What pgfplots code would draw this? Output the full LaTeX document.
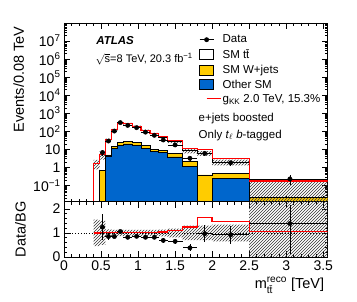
\documentclass[border=0pt]{standalone}
\usepackage{fontspec}
\setmainfont{Liberation Sans}
\usepackage{amsmath}
\usepackage{pgfplots}
\pgfplotsset{compat=1.18}
\usepackage{pgfplotstable}
\usetikzlibrary{patterns}

\definecolor{otherblue}{RGB}{0,102,204}
\definecolor{wyellow}{RGB}{255,204,0}
\definecolor{sigred}{RGB}{255,0,0}

% left bin edges; last row repeats the final value at the right edge
\pgfplotstableread{
x    blue   yel    tot    sig
0.00 1e-3   1e-3   1e-3   0.0135
0.40 1e-3   1e-3   1.7    1.73
0.48 1e-3   0.66   5.4    5.45
0.56 4.0    4.9    34     34.3
0.64 11.6   14.3   121    122
0.72 16     24     286    289
0.80 20     27     260    263
0.92 16     24     185    187
1.04 11.6   16     110    111
1.16 7.5    9.4    73     74
1.28 6.4    8.8    48     50
1.40 3.8    6.0    27     29.7
1.60 1.1    2.15   8.5    10.6
1.80 1e-3   0.38   6.2    10.2
2.00 0.25   0.47   2.0    2.96
2.50 0.008  0.022  0.165  0.177
3.60 0.008  0.022  0.165  0.177
}\stack

% same bins, closed to the floor at the right end (for filling)
\pgfplotstableread{
x    blue   yel
0.00 1e-3   1e-3
0.48 1e-3   0.66
0.56 4.0    4.9
0.64 11.6   14.3
0.72 16     24
0.80 20     27
0.92 16     24
1.04 11.6   16
1.16 7.5    9.4
1.28 6.4    8.8
1.40 3.8    6.0
1.60 1.1    2.15
1.80 1e-3   0.38
2.00 0.25   0.47
2.50 0.008  0.022
3.60 1e-3   1e-3
}\fills

\pgfplotstableread{
x    y     ex    eyp   eym
0.52 6.7   0.04  2.6   2.6
0.60 28.9  0.04  5.4   5.4
0.68 102.9 0.04  10    10
0.76 303   0.04  17    17
0.86 213   0.06  14    14
0.98 159   0.06  12    12
1.10 90    0.06  9     9
1.22 60    0.06  7.7   7.7
1.34 33    0.06  5.7   5.7
1.50 17.6  0.10  3     3
1.70 3.2   0.10  1.1   1.1
1.90 6.0   0.10  1.7   1.7
2.25 1.8   0.25  0.55  0.55
3.05 0.23  0.55  0.17  0.13
}\data

\pgfplotstableread{
x    sig
0.40 1.00
0.48 1.01
0.56 1.01
0.64 1.01
0.72 1.01
0.80 1.01
0.92 1.01
1.04 1.01
1.16 1.01
1.28 1.04
1.40 1.10
1.60 1.25
1.80 1.65
2.00 1.48
2.50 1.07
3.60 1.07
}\ratiosig

\pgfplotstableread{
x    y     ex    eyp   eym
0.52 1.24  0.04  0.53  0.55
0.60 0.85  0.04  0.15  0.15
0.68 0.85  0.04  0.08  0.08
0.76 1.06  0.04  0.06  0.06
0.86 0.82  0.06  0.05  0.05
0.98 0.86  0.06  0.06  0.06
1.10 0.82  0.06  0.07  0.07
1.22 0.82  0.06  0.08  0.08
1.34 0.69  0.06  0.10  0.10
1.50 0.65  0.10  0.10  0.10
1.70 0.38  0.10  0.14  0.14
1.90 0.97  0.10  0.35  0.35
2.25 0.92  0.25  0.38  0.38
3.05 1.39  0.55  0.76  1.26
}\ratiodata

\pgfplotsset{
  every axis/.append style={
    scale only axis, width=263.7pt,
    xmin=0, xmax=3.56,
    tick align=inside, major tick length=6pt, minor tick length=3pt,
    axis line style={line width=0.8pt},
    every tick/.style={black, line width=0.6pt},
    tick label style={font=\fontsize{14}{16}\selectfont},
    label style={font=\fontsize{14.5}{17}\selectfont},
    /pgf/number format/assume math mode=true,
    xtick={0,0.5,1,1.5,2,2.5,3,3.5},
    minor x tick num=4,
  },
  datastyle/.style={only marks, mark=*, mark size=2.2pt, black,
    error bars/x dir=both, error bars/x explicit,
    error bars/y dir=both, error bars/y explicit,
    error bars/error bar style={line width=0.8pt, black},
    error bars/error mark=none},
}

\begin{document}
\begin{tikzpicture}
\useasboundingbox (-64pt,-100.3pt) rectangle (293pt,201.7pt);
\begin{axis}[
  name=main, at={(0,0)}, anchor=south west,
  height=178.7pt,
  ymode=log, ymin=0.0126, ymax=1e8,
  xticklabels=\empty,
  ytick={0.1,1,10,100,1000,1e4,1e5,1e6,1e7},
  yticklabels={10$^{\text{−1}}$,1,10,10$^{\text{2}}$,10$^{\text{3}}$,10$^{\text{4}}$,10$^{\text{5}}$,10$^{\text{6}}$,10$^{\text{7}}$},
  minor ytick={0.02,0.03,0.04,0.05,0.06,0.07,0.08,0.09,0.2,0.3,0.4,0.5,0.6,0.7,0.8,0.9,2,3,4,5,6,7,8,9,20,30,40,50,60,70,80,90,200,300,400,500,600,700,800,900,2e3,3e3,4e3,5e3,6e3,7e3,8e3,9e3,2e4,3e4,4e4,5e4,6e4,7e4,8e4,9e4,2e5,3e5,4e5,5e5,6e5,7e5,8e5,9e5,2e6,3e6,4e6,5e6,6e6,7e6,8e6,9e6,2e7,3e7,4e7,5e7,6e7,7e7,8e7,9e7},
  ylabel={Events/0.08 TeV},
  ylabel style={at={(axis description cs:-0.172,1)}, anchor=east},
  legend style={at={(axis description cs:0.512,0.945)}, anchor=north west,
    draw=none, fill=none, font=\fontsize{11.5}{13}\selectfont,
    row sep=1pt, inner sep=0pt,
    /tikz/every even column/.append style={column sep=3pt}},
  legend cell align=left,
]
% stacked fills
\addplot[const plot, fill=wyellow, draw=none, forget plot] table[x=x,y=yel] {\fills} -- cycle;
\addplot[const plot, fill=otherblue, draw=none, forget plot] table[x=x,y=blue] {\fills} -- cycle;
% uncertainty band (step polygon: upper edge forward, lower edge back)
\addplot[pattern=north east lines, pattern color=black!80, draw=none, forget plot] coordinates {
(0.40,2.6)(0.48,2.6)(0.48,8.1)(0.56,8.1)(0.56,39.1)(0.64,39.1)(0.64,137)(0.72,137)(0.72,323)(0.80,323)(0.80,294)(0.92,294)(0.92,209)(1.04,209)(1.04,124)(1.16,124)(1.16,82.5)(1.28,82.5)(1.28,54.7)(1.40,54.7)(1.40,31.9)(1.60,31.9)(1.60,11.05)(1.80,11.05)(1.80,8.06)(2.00,8.06)(2.00,2.7)(2.50,2.7)(2.50,0.22)(3.60,0.22)
(3.60,0.001)(2.50,0.001)(2.50,1.3)(2.00,1.3)(2.00,4.34)(1.80,4.34)(1.80,5.95)(1.60,5.95)(1.60,22.1)(1.40,22.1)(1.40,41.3)(1.28,41.3)(1.28,63.5)(1.16,63.5)(1.16,96)(1.04,96)(1.04,161)(0.92,161)(0.92,226)(0.80,226)(0.80,249)(0.72,249)(0.72,105)(0.64,105)(0.64,28.9)(0.56,28.9)(0.56,2.7)(0.48,2.7)(0.48,0.77)(0.40,0.77)
} -- cycle;
% outlines
\addplot[const plot, black, line width=0.8pt, forget plot] table[x=x,y=blue] {\stack};
\addplot[const plot, black, line width=0.8pt, forget plot] table[x=x,y=yel] {\stack};
\addplot[const plot, black, line width=0.8pt, forget plot] table[x=x,y=tot] {\stack};
% signal + background
\addplot[const plot, draw=sigred, line width=1.2pt, forget plot] table[x=x,y=sig] {\stack};
% data
\addplot[forget plot, datastyle] table[x=x,y=y,x error=ex,y error plus=eyp,y error minus=eym] {\data};

\addlegendimage{legend image code/.code={\draw[black,line width=0.8pt] (0pt,0pt) -- (14pt,0pt); \fill[black] (7pt,0pt) circle (2.2pt);}}
\addlegendentry{Data}
\addlegendimage{legend image code/.code={\draw[black,fill=white,line width=0.6pt] (0pt,-5pt) rectangle (14pt,5pt);}}
\addlegendentry{SM t\=t}
\addlegendimage{legend image code/.code={\draw[black,fill=wyellow,line width=0.6pt] (0pt,-5pt) rectangle (14pt,5pt);}}
\addlegendentry{SM W+jets}
\addlegendimage{legend image code/.code={\draw[black,fill=otherblue,line width=0.6pt] (0pt,-5pt) rectangle (14pt,5pt);}}
\addlegendentry{Other SM}
\addlegendimage{legend image code/.code={\node[inner sep=0pt, outer sep=0pt] at (7pt,0pt) {\textcolor{sigred}{\rule{14pt}{1.6pt}}};}}
\addlegendentry{g$_{\text{KK}}$ 2.0 TeV, 15.3\%}

\node[anchor=west, inner sep=0pt, font=\bfseries\itshape\fontsize{11.5}{13}\selectfont] at (axis description cs:0.122,0.900) {ATLAS};
\node[anchor=west, inner sep=0pt, font=\fontsize{11}{13}\selectfont] at (axis description cs:0.119,0.797) {$\sqrt{\text{s}}$=8 TeV, 20.3 fb$^{\text{−1}}$};
\node[anchor=west, inner sep=0pt, font=\fontsize{11.5}{13}\selectfont] at (axis description cs:0.51,0.467) {e+jets boosted};
\node[anchor=west, inner sep=0pt, font=\fontsize{11.5}{13}\selectfont] at (axis description cs:0.51,0.373) {Only \textit{t}$_{\ell}$ \textit{b}-tagged};
\end{axis}

\begin{axis}[
  at={(main.south west)}, anchor=north west,
  height=55.3pt,
  ymin=0, ymax=2.3,
  ytick={0,1,2}, minor y tick num=4,
  xlabel={m$^{\text{reco}}_{\text{t\=t}}$ [TeV]},
  xlabel style={at={(axis description cs:1,0)}, anchor=north east, yshift=-17pt},
  ylabel={Data/BG},
  ylabel style={at={(axis description cs:-0.165,0.5)}, anchor=center},
]
\addplot[pattern=north east lines, pattern color=black!80, draw=none] coordinates {
(0.40,1.55)(0.48,1.55)(0.48,1.50)(0.56,1.50)(0.56,1.15)(0.64,1.15)(0.64,1.13)(1.28,1.13)(1.28,1.14)(1.40,1.14)(1.40,1.18)(1.60,1.18)(1.60,1.30)(2.00,1.30)(2.00,1.35)(2.50,1.35)(2.50,3)(3.60,3)
(3.60,-1)(2.50,-1)(2.50,0.65)(2.00,0.65)(2.00,0.70)(1.60,0.70)(1.60,0.82)(1.40,0.82)(1.40,0.86)(1.28,0.86)(1.28,0.87)(0.64,0.87)(0.64,0.85)(0.56,0.85)(0.56,0.50)(0.48,0.50)(0.48,0.45)(0.40,0.45)
} -- cycle;
\addplot[black, dotted, line width=0.8pt] coordinates {(0,1) (3.56,1)};
\addplot[const plot, draw=sigred, line width=1.3pt] table[x=x,y=sig] {\ratiosig};
\addplot[datastyle] table[x=x,y=y,x error=ex,y error plus=eyp,y error minus=eym] {\ratiodata};
\end{axis}
\end{tikzpicture}
\end{document}
